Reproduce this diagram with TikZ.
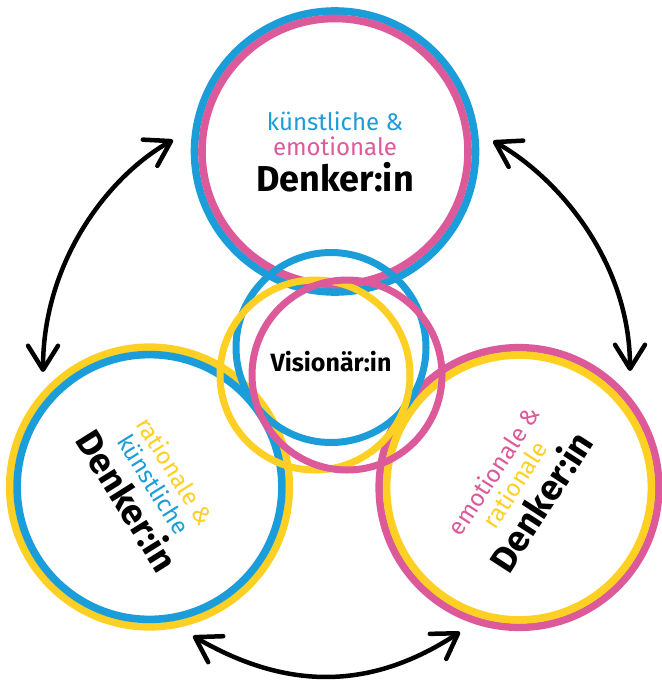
\documentclass[tikz,border=0pt]{standalone}
\usepackage{fontspec}
\setmainfont{Fira Sans}
\usetikzlibrary{arrows.meta}
\definecolor{cblue}{HTML}{1B9DD9}
\definecolor{cpink}{HTML}{DD5A9A}
\definecolor{cyellow}{HTML}{FDD023}

\begin{document}
\begin{tikzpicture}[x=1pt,y=-1pt,
  ring/.style={line width=7.6pt},
  innerring/.style={line width=7pt},
  barb/.tip={Straight Barb[length=24pt,width=30pt,round]},
  link/.style={line width=4.5pt, line cap=round, barb-barb},
  colortext/.style={align=center, inner sep=0pt, font=\fontsize{24}{25}\selectfont},
]
% canvas
\fill[white] (0,0) rectangle (661,682);
\useasboundingbox (0,0) rectangle (661,682);

% circle centres
\coordinate (ct) at (335,151.5);
\coordinate (cl) at (149.5,487);
\coordinate (cr) at (519,487.5);

% arrow end points
\coordinate (aTL) at (173,140);
\coordinate (aLB) at (43,372);
\coordinate (aTR) at (493,141);
\coordinate (aRB) at (630,371);
\coordinate (aBL) at (193,636);
\coordinate (aBR) at (460,632);

% links between the three thinkers
\draw[link] (aTL) .. controls (110,175) and (43,260) .. (aLB);
\draw[link] (aTR) .. controls (556,176) and (630,260) .. (aRB);
\draw[link] (aBL) .. controls (286,690) and (370,691) .. (aBR);

% top thinker: blue outside, pink inside
\draw[ring, cblue] (ct) circle[radius=140.5pt];
\draw[ring, cpink] (ct) circle[radius=133pt];
% left thinker: yellow outside, blue inside
\draw[ring, cyellow] (cl) circle[radius=139.8pt];
\draw[ring, cblue] (cl) circle[radius=132.4pt];
% right thinker: pink outside, yellow inside
\draw[ring, cpink] (cr) circle[radius=139.8pt];
\draw[ring, cyellow] (cr) circle[radius=132.4pt];

% visionary: three overlapping rings
\draw[innerring, cblue] (331,347.5) circle[radius=95pt];
\draw[innerring, cyellow] (315,375) circle[radius=95pt];
\draw[innerring, cpink] (347,375) circle[radius=95pt];

% labels
\node[colortext] (ttop) at (335,152) {\textcolor{cblue}{künstliche \&}\\\textcolor{cpink}{emotionale}\\[5pt]{\fontsize{36}{36}\selectfont\bfseries Denker:in}};
\node[colortext, rotate=-58] (tleft) at (cl) {\textcolor{cyellow}{rationale \&}\\\textcolor{cblue}{künstliche}\\[5pt]{\fontsize{36}{36}\selectfont\bfseries Denker:in}};
\node[colortext, rotate=57] (tright) at (cr) {\textcolor{cpink}{emotionale \&}\\\textcolor{cyellow}{rationale}\\[5pt]{\fontsize{36}{36}\selectfont\bfseries Denker:in}};
\node[font=\fontsize{25}{25}\selectfont\bfseries] (vis) at (331,362) {Visionär:in};
\end{tikzpicture}
\end{document}
